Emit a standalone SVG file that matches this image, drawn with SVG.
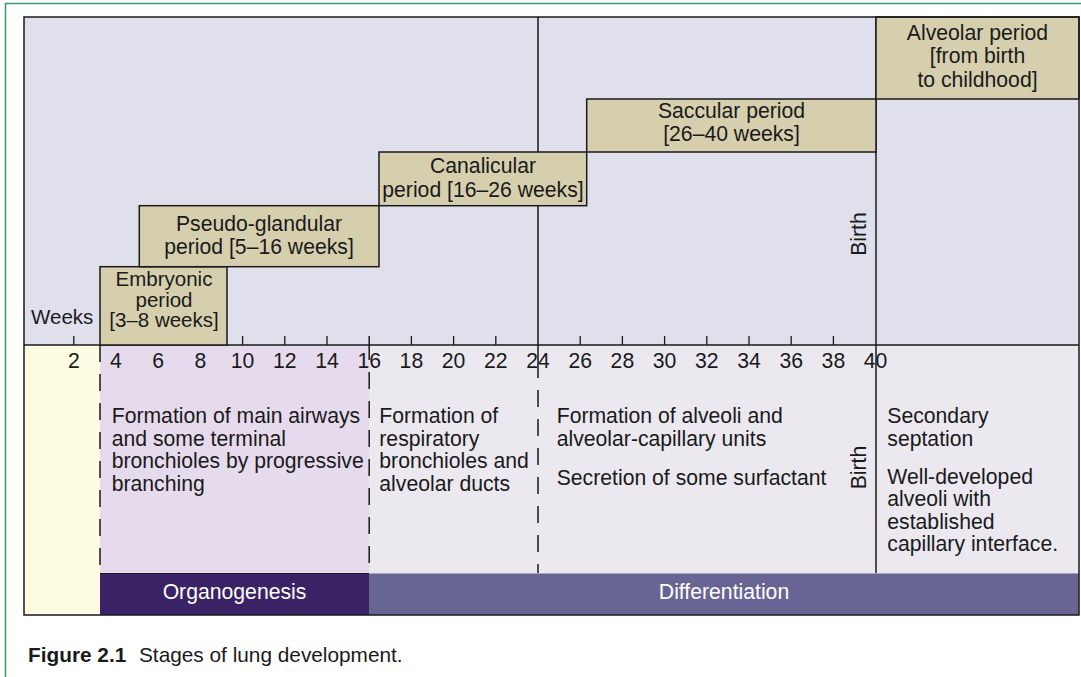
<svg xmlns="http://www.w3.org/2000/svg" width="1081" height="677" viewBox="0 0 1081 677">
<style>
text{font-family:"Liberation Sans",Arial,sans-serif;font-size:21.2px;fill:#1a1a1a}
.c{text-anchor:middle}
.w{fill:#ffffff}
.sm{font-size:20.5px}
.box{fill:#d6cfae;stroke:#1a1a1a;stroke-width:1.5}
.ln{stroke:#1a1a1a;stroke-width:1.5;fill:none}
.dash{stroke:#1a1a1a;stroke-width:1.5;fill:none;stroke-dasharray:17 12}
.tick{stroke:#1a1a1a;stroke-width:1.3}
</style>
<rect x="0" y="0" width="1081" height="677" fill="#ffffff"/>
<path d="M5.5 677 V3.5 H1081" fill="none" stroke="#3a9a68" stroke-width="1.5"/>
<g id="background">
<rect x="24" y="17" width="1055" height="328" fill="#e0dfec"/>
<rect x="24" y="345" width="76" height="270" fill="#fdfbe1"/>
<rect x="100" y="345" width="269" height="228" fill="#e6dbec"/>
<rect x="369" y="345" width="710" height="228" fill="#ebe8f0"/>
</g>
<g id="band-organogenesis">
<rect x="100" y="573" width="269" height="42" fill="#3a2266"/>
<line x1="100" y1="573.5" x2="369" y2="573.5" stroke="#1a1a1a" stroke-width="1"/>
<text class="c w" x="234.5" y="599">Organogenesis</text>
</g>
<g id="band-differentiation">
<rect x="369" y="573" width="710" height="42" fill="#686595"/>
<line x1="369" y1="573.5" x2="1079" y2="573.5" stroke="#a9a6bf" stroke-width="1"/>
<text class="c w" x="724" y="599">Differentiation</text>
</g>
<g id="connectors">
<line class="ln" x1="538" y1="17" x2="538" y2="378"/>
<line class="dash" x1="538" y1="390" x2="538" y2="573"/>
<line class="ln" x1="876" y1="17" x2="876" y2="573"/>
<line class="ln" x1="369.2" y1="336" x2="369.2" y2="360"/>
<line class="dash" x1="369.2" y1="372" x2="369.2" y2="573"/>
<line class="dash" x1="100" y1="345" x2="100" y2="573"/>
<line class="ln" x1="24" y1="345" x2="1079" y2="345"/>
<g class="tick">
<line x1="73.8" y1="336" x2="73.8" y2="345"/>
<line x1="116" y1="336" x2="116" y2="345"/>
<line x1="158.2" y1="336" x2="158.2" y2="345"/>
<line x1="200.4" y1="336" x2="200.4" y2="345"/>
<line x1="242.6" y1="336" x2="242.6" y2="345"/>
<line x1="284.8" y1="336" x2="284.8" y2="345"/>
<line x1="327" y1="336" x2="327" y2="345"/>
<line x1="411.4" y1="336" x2="411.4" y2="345"/>
<line x1="453.6" y1="336" x2="453.6" y2="345"/>
<line x1="495.8" y1="336" x2="495.8" y2="345"/>
<line x1="580.2" y1="336" x2="580.2" y2="345"/>
<line x1="622.4" y1="336" x2="622.4" y2="345"/>
<line x1="664.6" y1="336" x2="664.6" y2="345"/>
<line x1="706.8" y1="336" x2="706.8" y2="345"/>
<line x1="749" y1="336" x2="749" y2="345"/>
<line x1="791.2" y1="336" x2="791.2" y2="345"/>
<line x1="833.4" y1="336" x2="833.4" y2="345"/>
</g>
</g>
<g id="axis-labels">
<text x="31" y="323.5" class="sm">Weeks</text>
<text class="c" x="73.8" y="368">2</text>
<text class="c" x="116" y="368">4</text>
<text class="c" x="158.2" y="368">6</text>
<text class="c" x="200.4" y="368">8</text>
<text class="c" x="242.6" y="368">10</text>
<text class="c" x="284.8" y="368">12</text>
<text class="c" x="327" y="368">14</text>
<text class="c" x="369.2" y="368">16</text>
<text class="c" x="411.4" y="368">18</text>
<text class="c" x="453.6" y="368">20</text>
<text class="c" x="495.8" y="368">22</text>
<text class="c" x="538" y="368">24</text>
<text class="c" x="580.2" y="368">26</text>
<text class="c" x="622.4" y="368">28</text>
<text class="c" x="664.6" y="368">30</text>
<text class="c" x="706.8" y="368">32</text>
<text class="c" x="749" y="368">34</text>
<text class="c" x="791.2" y="368">36</text>
<text class="c" x="833.4" y="368">38</text>
<text class="c" x="875.6" y="368">40</text>
</g>
<g id="birth-upper"><text class="c" transform="translate(866,234) rotate(-90)">Birth</text></g>
<g id="birth-lower"><text class="c" transform="translate(866,467.5) rotate(-90)">Birth</text></g>
<g id="embryonic">
<rect class="box" x="100" y="266.7" width="127" height="78.3"/>
<text class="c sm" x="164" y="286">Embryonic</text>
<text class="c sm" x="164" y="306.7">period</text>
<text class="c sm" x="164" y="327.3">[3–8 weeks]</text>
</g>
<g id="pseudo-glandular">
<rect class="box" x="139.3" y="205.7" width="239.7" height="61"/>
<text class="c" x="259" y="231">Pseudo-glandular</text>
<text class="c" x="259" y="254">period [5–16 weeks]</text>
</g>
<g id="canalicular">
<rect class="box" x="379" y="152" width="207.7" height="53.7"/>
<text class="c" x="483" y="172.7">Canalicular</text>
<text class="c" x="483" y="196.7">period [16–26 weeks]</text>
</g>
<g id="saccular">
<rect class="box" x="586.7" y="99" width="289.3" height="53"/>
<text class="c" x="731.5" y="118.3">Saccular period</text>
<text class="c" x="731.5" y="141">[26–40 weeks]</text>
</g>
<g id="alveolar">
<rect class="box" x="876" y="17" width="203" height="82"/>
<text class="c" x="977.5" y="40">Alveolar period</text>
<text class="c" x="977.5" y="63.3">[from birth</text>
<text class="c" x="977.5" y="86.7">to childhood]</text>
</g>
<g id="desc-organogenesis">
<text x="111.7" y="423.3">Formation of main airways</text>
<text x="111.7" y="445.7">and some terminal</text>
<text x="111.7" y="468.3">bronchioles by progressive</text>
<text x="111.7" y="490.7">branching</text>
</g>
<g id="desc-canalicular">
<text x="379.3" y="423.3">Formation of</text>
<text x="379.3" y="445.7">respiratory</text>
<text x="379.3" y="468.3">bronchioles and</text>
<text x="379.3" y="490.7">alveolar ducts</text>
</g>
<g id="desc-saccular">
<text x="556.7" y="423.3">Formation of alveoli and</text>
<text x="556.7" y="445.7">alveolar-capillary units</text>
<text x="556.7" y="485">Secretion of some surfactant</text>
</g>
<g id="desc-alveolar">
<text x="887.3" y="423.3">Secondary</text>
<text x="887.3" y="445.7">septation</text>
<text x="887.3" y="483.5">Well-developed</text>
<text x="887.3" y="506">alveoli with</text>
<text x="887.3" y="528.5">established</text>
<text x="887.3" y="551">capillary interface.</text>
</g>
<rect x="24" y="17" width="1055" height="598" fill="none" stroke="#1a1a1a" stroke-width="1.5"/>
<g id="caption">
<text x="28" y="662" style="font-size:20.8px"><tspan font-weight="bold">Figure 2.1</tspan><tspan x="139">Stages of lung development.</tspan></text>
</g>
</svg>
